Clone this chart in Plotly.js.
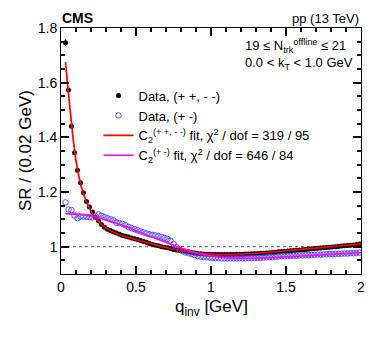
<!DOCTYPE html>
<html>
<head>
<meta charset="utf-8">
<script src="https://cdn.plot.ly/plotly-3.0.1.min.js"></script>
<style>
  html, body { margin: 0; padding: 0; background: #fff; }
  #chart { width: 374px; height: 338px; }
</style>
</head>
<body>
<div id="chart"></div>
<script>
// bin centres, 0.02 GeV bins
var qBins = [0.03, 0.05, 0.07, 0.09, 0.11, 0.13, 0.15, 0.17, 0.19, 0.21,
    0.23, 0.25, 0.27, 0.29, 0.31, 0.33, 0.35, 0.37, 0.39, 0.41,
    0.43, 0.45, 0.47, 0.49, 0.51, 0.53, 0.55, 0.57, 0.59, 0.61,
    0.63, 0.65, 0.67, 0.69, 0.71, 0.73, 0.75, 0.77, 0.79, 0.81,
    0.83, 0.85, 0.87, 0.89, 0.91, 0.93, 0.95, 0.97, 0.99, 1.01,
    1.03, 1.05, 1.07, 1.09, 1.11, 1.13, 1.15, 1.17, 1.19, 1.21,
    1.23, 1.25, 1.27, 1.29, 1.31, 1.33, 1.35, 1.37, 1.39, 1.41,
    1.43, 1.45, 1.47, 1.49, 1.51, 1.53, 1.55, 1.57, 1.59, 1.61,
    1.63, 1.65, 1.67, 1.69, 1.71, 1.73, 1.75, 1.77, 1.79, 1.81,
    1.83, 1.85, 1.87, 1.89, 1.91, 1.93, 1.95, 1.97, 1.99];

// same-sign pairs (+ +, - -)
var srSame = [1.746, 1.573, 1.441, 1.344, 1.280, 1.234, 1.197, 1.165, 1.145, 1.127,
    1.108, 1.094, 1.081, 1.071, 1.064, 1.059, 1.054, 1.050, 1.045, 1.041,
    1.038, 1.035, 1.032, 1.029, 1.026, 1.023, 1.019, 1.016, 1.012, 1.008,
    1.005, 1.003, 1.000, 0.998, 0.996, 0.993, 0.990, 0.988, 0.986, 0.985,
    0.983, 0.981, 0.979, 0.977, 0.975, 0.974, 0.973, 0.972, 0.972, 0.971,
    0.971, 0.971, 0.971, 0.971, 0.971, 0.971, 0.971, 0.972, 0.972, 0.972,
    0.973, 0.973, 0.974, 0.974, 0.975, 0.976, 0.976, 0.977, 0.978, 0.979,
    0.980, 0.981, 0.982, 0.983, 0.984, 0.985, 0.986, 0.987, 0.988, 0.989,
    0.990, 0.991, 0.992, 0.993, 0.994, 0.995, 0.996, 0.997, 0.998, 0.999,
    1.000, 1.001, 1.002, 1.003, 1.004, 1.005, 1.006, 1.008, 1.010];
var errSame = [0.012, 0.009, 0.007, 0.005];

// opposite-sign pairs (+ -)
var srOpp = [1.162, 1.136, 1.134, 1.114, 1.104, 1.110, 1.110, 1.109, 1.108, 1.107,
    1.112, 1.118, 1.113, 1.108, 1.104, 1.100, 1.096, 1.088, 1.086, 1.084,
    1.078, 1.072, 1.068, 1.064, 1.060, 1.056, 1.052, 1.048, 1.045, 1.043,
    1.041, 1.039, 1.036, 1.032, 1.028, 1.022, 1.010, 0.998, 0.988, 0.983,
    0.979, 0.976, 0.973, 0.969, 0.966, 0.964, 0.962, 0.961, 0.960, 0.959,
    0.958, 0.958, 0.957, 0.957, 0.957, 0.957, 0.957, 0.957, 0.957, 0.957,
    0.957, 0.958, 0.958, 0.958, 0.959, 0.959, 0.960, 0.961, 0.962, 0.962,
    0.963, 0.964, 0.965, 0.965, 0.966, 0.966, 0.967, 0.967, 0.968, 0.968,
    0.969, 0.969, 0.970, 0.970, 0.971, 0.971, 0.972, 0.972, 0.973, 0.973,
    0.974, 0.974, 0.974, 0.975, 0.975, 0.976, 0.976, 0.977, 0.978];

// fit curves
var qFitSame = [0.03, 0.04, 0.05, 0.06, 0.07, 0.08, 0.09, 0.10, 0.12, 0.14, 0.16, 0.18,
    0.20, 0.22, 0.25, 0.30, 0.35, 0.40, 0.50, 0.60, 0.70, 0.80, 0.90, 1.00,
    1.10, 1.20, 1.30, 1.40, 1.50, 1.60, 1.70, 1.80, 1.90, 2.00];
var fitSame = [1.676, 1.615, 1.560, 1.505, 1.452, 1.400, 1.355, 1.315, 1.255, 1.210, 1.178, 1.152,
    1.130, 1.113, 1.093, 1.068, 1.053, 1.042, 1.026, 1.011, 0.997, 0.986, 0.977, 0.973,
    0.972, 0.973, 0.976, 0.980, 0.985, 0.990, 0.995, 1.000, 1.005, 1.010];

var qFitOpp = [0.03, 0.10, 0.15, 0.20, 0.25, 0.30, 0.35, 0.40, 0.45, 0.50, 0.60, 0.70,
    0.80, 0.90, 1.00, 1.10, 1.20, 1.30, 1.40, 1.50, 1.60, 1.70, 1.80, 1.90, 2.00];
var fitOpp = [1.121, 1.119, 1.116, 1.112, 1.106, 1.098, 1.089, 1.079, 1.070, 1.058, 1.037, 1.016,
    0.995, 0.978, 0.966, 0.960, 0.958, 0.958, 0.960, 0.963, 0.966, 0.969, 0.972, 0.975, 0.978];

var font = 'Liberation Sans, Arial, sans-serif';

var data = [
    {
        x: qBins, y: srSame, type: 'scatter', mode: 'markers',
        name: 'Data, (+ +, - -)',
        marker: {color: 'black', size: 5},
        error_y: {type: 'data', array: errSame, color: 'black', thickness: 1, width: 0}
    },
    {
        x: qBins, y: srOpp, type: 'scatter', mode: 'markers',
        name: 'Data, (+ -)',
        marker: {color: '#4a4aff', size: 5.5, symbol: 'circle-open', line: {width: 1}}
    },
    {
        x: qFitSame, y: fitSame, type: 'scatter', mode: 'lines',
        name: 'C<sub>2</sub><sup>(+ +, - -)</sup> fit, χ<sup>2</sup> / dof = 319 / 95',
        line: {color: '#ff0000', width: 1.7, shape: 'spline'}
    },
    {
        x: qFitOpp, y: fitOpp, type: 'scatter', mode: 'lines',
        name: 'C<sub>2</sub><sup>(+ -)</sup> fit, χ<sup>2</sup> / dof = 646 / 84',
        line: {color: '#ff00ff', width: 1.6, shape: 'spline'}
    }
];

var layout = {
    width: 374,
    height: 338,
    margin: {l: 61, r: 13, t: 28, b: 64},
    paper_bgcolor: 'white',
    plot_bgcolor: 'white',
    font: {family: font, color: 'black', size: 14},
    showlegend: true,
    legend: {
        x: 0.125, y: 0.786, xanchor: 'left', yanchor: 'top',
        bgcolor: 'rgba(0,0,0,0)',
        font: {size: 13},
        tracegroupgap: 0
    },
    xaxis: {
        range: [0, 2],
        tickmode: 'linear', tick0: 0, dtick: 0.5,
        ticks: 'inside', ticklen: 8, tickwidth: 1.5, tickcolor: 'black',
        minor: {tickmode: 'linear', tick0: 0, dtick: 0.1, ticks: 'inside', ticklen: 4, tickwidth: 1.5, tickcolor: 'black'},
        showline: true, linecolor: 'black', linewidth: 1, mirror: 'allticks',
        showgrid: false, zeroline: false,
        tickfont: {size: 14}
    },
    yaxis: {
        range: [0.9, 1.8],
        tickmode: 'linear', tick0: 1, dtick: 0.2,
        ticks: 'inside', ticklen: 8, tickwidth: 1.5, tickcolor: 'black',
        minor: {tickmode: 'linear', tick0: 1, dtick: 0.05, ticks: 'inside', ticklen: 4, tickwidth: 1.5, tickcolor: 'black'},
        showline: true, linecolor: 'black', linewidth: 1, mirror: 'allticks',
        showgrid: false, zeroline: false,
        tickfont: {size: 14}
    },
    shapes: [
        {type: 'line', xref: 'paper', yref: 'y', x0: 0, x1: 1, y0: 1, y1: 1,
         line: {color: '#555', width: 1, dash: 'dot'}, layer: 'below'}
    ],
    annotations: [
        {text: '<b>CMS</b>', xref: 'paper', yref: 'paper', x: 0, y: 1, xanchor: 'left', yanchor: 'bottom',
         showarrow: false, font: {size: 14}, xshift: -1},
        {text: 'pp (13 TeV)', xref: 'paper', yref: 'paper', x: 1, y: 1, xanchor: 'right', yanchor: 'bottom',
         showarrow: false, font: {size: 13}},
        {text: '19 ≤ N<sub>trk</sub><sup>offline</sup> ≤ 21', xref: 'paper', yref: 'paper', x: 0.607, y: 0.925,
         xanchor: 'left', yanchor: 'middle', showarrow: false, font: {size: 13}},
        {text: '0.0 < k<sub>T</sub> < 1.0 GeV', xref: 'paper', yref: 'paper', x: 0.607, y: 0.855,
         xanchor: 'left', yanchor: 'middle', showarrow: false, font: {size: 13}},
        // axis titles
        {text: 'q<sub>inv</sub> [GeV]', xref: 'paper', yref: 'paper', x: 0.5, y: -0.14,
         xanchor: 'center', yanchor: 'middle', showarrow: false, font: {size: 17}},
        {text: 'SR / (0.02 GeV)', xref: 'paper', yref: 'paper', x: -0.12, y: 0.5, textangle: -90,
         xanchor: 'center', yanchor: 'middle', showarrow: false, font: {size: 17}}
    ]
};

Plotly.newPlot('chart', data, layout, {displayModeBar: false});
</script>
</body>
</html>
